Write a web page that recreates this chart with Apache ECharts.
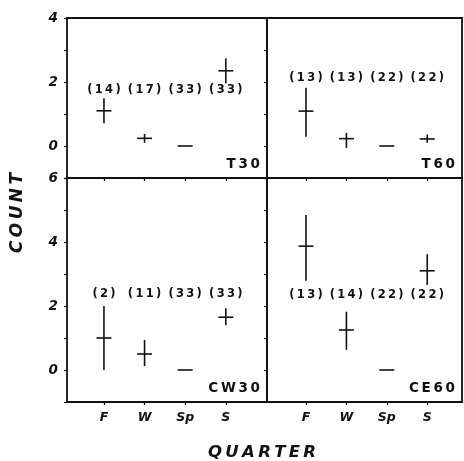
<!DOCTYPE html>
<html>
<head>
<meta charset="utf-8">
<script src="https://cdn.jsdelivr.net/npm/echarts@6/dist/echarts.min.js"></script>
<style>
  html, body { margin: 0; padding: 0; background: #fff; }
  #chart { width: 464px; height: 461px; }
</style>
</head>
<body>
<div id="chart"></div>
<script>
// Seasonal quarters on the x axis
const quarters = ['F', 'W', 'Sp', 'S'];
const panelNames = ['T30', 'T60', 'CW30', 'CE60'];

// Mean count per quarter, with the low and high ends of each bar, and sample sizes
const t30Mean = [1.10, 0.24, 0, 2.35];
const t30Low  = [0.71, 0.10, 0, 1.96];
const t30High = [1.49, 0.38, 0, 2.74];
const t30N    = [14, 17, 33, 33];

const t60Mean = [1.09, 0.23, 0, 0.22];
const t60Low  = [0.29, -0.06, 0, 0.10];
const t60High = [1.82, 0.41, 0, 0.36];
const t60N    = [13, 13, 22, 22];

const cw30Mean = [1.00, 0.50, 0, 1.65];
const cw30Low  = [0.00, 0.12, 0, 1.40];
const cw30High = [2.00, 0.94, 0, 1.93];
const cw30N    = [2, 11, 33, 33];

const ce60Mean = [3.87, 1.25, 0, 3.10];
const ce60Low  = [2.79, 0.63, 0, 2.66];
const ce60High = [4.84, 1.82, 0, 3.62];
const ce60N    = [13, 14, 22, 22];

// Labelled y ticks per row
const yTicksTop = [0, 2, 4];
const yTicksBottom = [0, 2, 4, 6];

// ---- layout ----
const FONT = '"DejaVu Sans", "Liberation Sans", sans-serif';
const cols = [
  { left: 67, width: 200, xMin: 0.09, xMax: 5.015 },
  { left: 267, width: 195, xMin: 0.035, xMax: 4.86 }
];
const rows = [
  { top: 18, height: 160, yMin: -1, yMax: 4, ticks: yTicksTop },
  { top: 178, height: 224, yMin: -1, yMax: 6, ticks: yTicksBottom }
];
const panels = [
  { name: panelNames[0], row: 0, col: 0, mean: t30Mean, low: t30Low, high: t30High, n: t30N, nY: 1.75 },
  { name: panelNames[1], row: 0, col: 1, mean: t60Mean, low: t60Low, high: t60High, n: t60N, nY: 2.13 },
  { name: panelNames[2], row: 1, col: 0, mean: cw30Mean, low: cw30Low, high: cw30High, n: cw30N, nY: 2.37 },
  { name: panelNames[3], row: 1, col: 1, mean: ce60Mean, low: ce60Low, high: ce60High, n: ce60N, nY: 2.34 }
];

// spread characters apart a little, like the lettering in the figure
const spaced = s => String(s).split('').join('\u2009');

const grid = [], xAxis = [], yAxis = [], series = [], graphic = [];

panels.forEach((p, i) => {
  const c = cols[p.col], r = rows[p.row];
  grid.push({
    left: c.left, top: r.top, width: c.width, height: r.height,
    show: true, borderColor: '#111', borderWidth: 1.8, backgroundColor: 'transparent'
  });
  xAxis.push({
    type: 'value', gridIndex: i, min: c.xMin, max: c.xMax, position: 'bottom',
    axisLine: { show: false, onZero: false }, splitLine: { show: false },
    axisTick: { show: true, customValues: [1, 2, 3, 4], length: 3, lineStyle: { color: '#111', width: 1.2 } },
    axisLabel: {
      show: p.row === 1, customValues: [1, 2, 3, 4], margin: 9,
      formatter: v => quarters[Math.round(v) - 1] || '',
      color: '#111', fontFamily: FONT, fontWeight: 'bold', fontStyle: 'italic', fontSize: 12.5
    }
  });
  yAxis.push({
    type: 'value', gridIndex: i, min: r.yMin, max: r.yMax, interval: 1,
    axisLine: { show: false, onZero: false }, splitLine: { show: false },
    axisTick: { show: true, length: 3, lineStyle: { color: '#111', width: 1.2 } },
    axisLabel: {
      show: p.col === 0, margin: 9,
      formatter: v => (r.ticks.indexOf(v) >= 0 ? String(v) : ''),
      color: '#111', fontFamily: FONT, fontWeight: 'bold', fontStyle: 'italic', fontSize: 13.5
    }
  });

  // mean marker with its vertical range bar
  series.push({
    type: 'custom', xAxisIndex: i, yAxisIndex: i, clip: false,
    data: quarters.map((q, k) => [k + 1, p.mean[k], p.low[k], p.high[k]]),
    renderItem: (params, api) => {
      const x = api.value(0);
      const pm = api.coord([x, api.value(1)]);
      const pl = api.coord([x, api.value(2)]);
      const ph = api.coord([x, api.value(3)]);
      const stroke = { stroke: '#111', lineWidth: 1.6 };
      const half = 7.5;
      const children = [{
        type: 'line',
        shape: { x1: pm[0] - half, y1: pm[1], x2: pm[0] + half, y2: pm[1] },
        style: stroke
      }];
      if (api.value(3) > api.value(2)) {
        children.push({
          type: 'line',
          shape: { x1: pl[0], y1: pl[1], x2: ph[0], y2: ph[1] },
          style: stroke
        });
      }
      return { type: 'group', children };
    }
  });

  // sample sizes above the bars
  series.push({
    type: 'custom', xAxisIndex: i, yAxisIndex: i, clip: false,
    data: quarters.map((q, k) => [k + 1, p.n[k]]),
    renderItem: (params, api) => {
      const pt = api.coord([api.value(0), p.nY]);
      return {
        type: 'text', x: pt[0], y: pt[1],
        style: {
          text: spaced('(' + api.value(1) + ')'),
          align: 'center', verticalAlign: 'middle',
          textAlign: 'center', textVerticalAlign: 'middle',
          font: 'bold 11.5px ' + FONT, fill: '#111'
        }
      };
    }
  });

  // panel name in the lower-right corner
  graphic.push({
    type: 'text',
    x: c.left + c.width - 7, y: r.top + r.height - 7,
    style: {
      text: spaced(p.name),
      align: 'right', verticalAlign: 'bottom',
      textAlign: 'right', textVerticalAlign: 'bottom',
      font: 'bold 13.5px ' + FONT, fill: '#111'
    }
  });
});

// axis titles
graphic.push({
  type: 'text', x: 18, y: 213, rotation: Math.PI / 2,
  style: {
    text: spaced('COUNT'), align: 'center', verticalAlign: 'middle',
    textAlign: 'center', textVerticalAlign: 'middle',
    font: 'italic bold 17px ' + FONT, fill: '#111'
  }
});
graphic.push({
  type: 'text', x: 262, y: 453,
  style: {
    text: spaced('QUARTER'), align: 'center', verticalAlign: 'middle',
    textAlign: 'center', textVerticalAlign: 'middle',
    font: 'italic bold 16.5px ' + FONT, fill: '#111'
  }
});

const chart = echarts.init(document.getElementById('chart'), null, { renderer: 'canvas' });
chart.setOption({
  animation: false,
  backgroundColor: '#fff',
  grid, xAxis, yAxis, series, graphic
});
</script>
</body>
</html>
